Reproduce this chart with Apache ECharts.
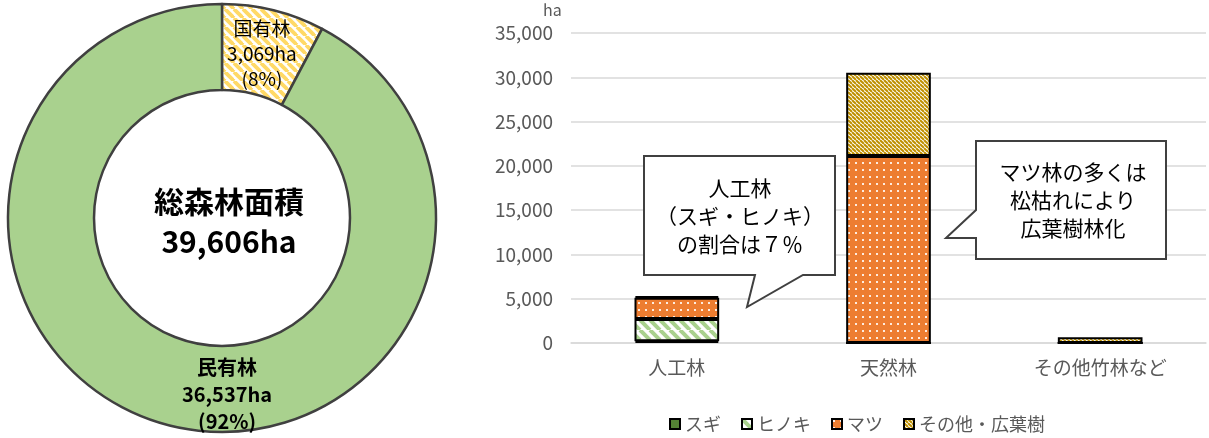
<!DOCTYPE html>
<html>
<head>
<meta charset="utf-8">
<title>森林面積の内訳</title>
<script src="https://cdn.jsdelivr.net/npm/echarts@6/dist/echarts.min.js"></script>
<style>
  html, body { margin: 0; padding: 0; background: #fff; }
  #chart { width: 1209px; height: 438px; }
</style>
</head>
<body>
<div id="chart"></div>
<script>
// 所有区分別の森林面積 (ha)
const ownerNames = ['国有林', '民有林'];
const ownerValues = [3069, 36537];

// 林種別・樹種別の面積 (ha)
const forestTypes = ['人工林', '天然林', 'その他竹林など'];
const sugiValues = [200, 0, 0];
const hinokiValues = [2500, 0, 0];
const matsuValues = [2400, 21100, 0];
const otherValues = [200, 9400, 650];

const yTicks = { min: 0, max: 35000, interval: 5000 };
const FONT = '"Noto Sans CJK JP", "Noto Sans", sans-serif';

// ---- fill patterns ----
function stripePattern(size, lineW, fg, bg) {
  const c = document.createElement('canvas');
  c.width = size; c.height = size;
  const g = c.getContext('2d');
  g.fillStyle = bg; g.fillRect(0, 0, size, size);
  g.strokeStyle = fg; g.lineWidth = lineW;
  for (let k = -1; k <= 1; k++) {
    g.beginPath();
    g.moveTo(k * size, 0);
    g.lineTo(k * size + size, size);
    g.stroke();
  }
  return { image: c, repeat: 'repeat' };
}
function dotPattern(w, h, dot, fg, bg) {
  const c = document.createElement('canvas');
  c.width = w; c.height = h;
  const g = c.getContext('2d');
  g.fillStyle = bg; g.fillRect(0, 0, w, h);
  g.fillStyle = fg;
  g.fillRect(1, 1, dot, dot);
  return { image: c, repeat: 'repeat' };
}

const kokuyuFill = stripePattern(9, 3.8, '#FFD966', '#FFFFFF');
const hinokiFill = stripePattern(10, 4, '#A9D18E', '#FFFFFF');
const otherFill = stripePattern(4, 2, '#BF9000', '#FFFFFF');
const matsuFill = dotPattern(7, 7, 2, 'rgba(255,255,255,0.85)', '#ED7D31');
const sugiFill = '#548235';

const chart = echarts.init(document.getElementById('chart'));

function fmt(v) { return v.toLocaleString('en-US'); }

const barStyle = (fill) => ({ color: fill, borderColor: '#000', borderWidth: 2 });

const option = {
  animation: false,
  textStyle: { fontFamily: FONT },
  grid: { left: 571, right: 3, top: 33, bottom: 95, containLabel: false },
  xAxis: {
    type: 'category',
    data: forestTypes,
    axisLine: { lineStyle: { color: '#D9D9D9', width: 1.5 } },
    axisTick: { show: false },
    axisLabel: { color: '#595959', fontSize: 19, margin: 15, fontFamily: FONT }
  },
  yAxis: {
    type: 'value',
    min: yTicks.min, max: yTicks.max, interval: yTicks.interval,
    axisLine: { show: false },
    axisTick: { show: false },
    axisLabel: {
      color: '#595959', fontSize: 19, margin: 18, fontFamily: FONT,
      formatter: (v) => fmt(v)
    },
    splitLine: { lineStyle: { color: '#D9D9D9', width: 1.5 } }
  },
  legend: {
    left: 664, top: 410,
    itemWidth: 10, itemHeight: 10, itemGap: 20,
    icon: 'rect',
    textStyle: { color: '#595959', fontSize: 18, fontFamily: FONT },
    data: ['スギ', 'ヒノキ', 'マツ', 'その他・広葉樹']
  },
  series: [
    {
      type: 'pie',
      center: [222, 218],
      radius: [128, 214],
      startAngle: 90,
      clockwise: true,
      avoidLabelOverlap: false,
      legendHoverLink: false,
      emphasis: { disabled: true },
      itemStyle: { borderColor: '#404040', borderWidth: 2.5 },
      label: {
        show: true,
        position: 'inside',
        color: '#000',
        fontFamily: FONT,
        formatter: (p) => p.name + '\n' + fmt(p.value) + 'ha\n(' + Math.round(p.percent) + '%)'
      },
      labelLine: { show: false },
      data: [
        {
          name: ownerNames[0], value: ownerValues[0],
          itemStyle: { color: kokuyuFill },
          label: { fontSize: 19, lineHeight: 25, offset: [-2, 5] }
        },
        {
          name: ownerNames[1], value: ownerValues[1],
          itemStyle: { color: '#A9D18E' },
          label: { fontSize: 20, lineHeight: 27, fontWeight: 'bold', offset: [47, 8] }
        }
      ]
    },
    { name: 'スギ', type: 'bar', stack: 'tree', barWidth: '40%', data: sugiValues, itemStyle: barStyle(sugiFill) },
    { name: 'ヒノキ', type: 'bar', stack: 'tree', barWidth: '40%', data: hinokiValues, itemStyle: barStyle(hinokiFill) },
    { name: 'マツ', type: 'bar', stack: 'tree', barWidth: '40%', data: matsuValues, itemStyle: barStyle(matsuFill) },
    { name: 'その他・広葉樹', type: 'bar', stack: 'tree', barWidth: '40%', data: otherValues, itemStyle: barStyle(otherFill) }
  ],
  graphic: [
    // unit label
    { type: 'text', left: 543, top: 2, style: { text: 'ha', fill: '#595959', font: '16px ' + FONT } },
    // total area in the donut hole
    {
      type: 'text', x: 229, y: 222,
      style: {
        text: '総森林面積\n' + fmt(ownerValues[0] + ownerValues[1]) + 'ha',
        fill: '#000', font: 'bold 30px ' + FONT,
        textAlign: 'center', textVerticalAlign: 'middle', lineHeight: 40
      }
    },
    // callout: plantation share
    {
      type: 'polygon',
      shape: { points: [[644,156],[835,156],[835,275],[803,275],[747,307],[755,275],[644,275]] },
      style: { fill: '#fff', stroke: '#404040', lineWidth: 2 },
      z: 10
    },
    {
      type: 'text', x: 740, y: 216, z: 11,
      style: {
        text: '人工林\n（スギ・ヒノキ）\nの割合は７％',
        fill: '#000', font: '21px ' + FONT,
        textAlign: 'center', textVerticalAlign: 'middle', lineHeight: 28
      }
    },
    // callout: pine forests
    {
      type: 'polygon',
      shape: { points: [[976,141],[1166,141],[1166,259],[976,259],[976,238],[946,238],[976,210]] },
      style: { fill: '#fff', stroke: '#404040', lineWidth: 2 },
      z: 10
    },
    {
      type: 'text', x: 1073, y: 200, z: 11,
      style: {
        text: 'マツ林の多くは\n松枯れにより\n広葉樹林化',
        fill: '#000', font: '21px ' + FONT,
        textAlign: 'center', textVerticalAlign: 'middle', lineHeight: 28
      }
    }
  ]
};

chart.setOption(option);
</script>
</body>
</html>
